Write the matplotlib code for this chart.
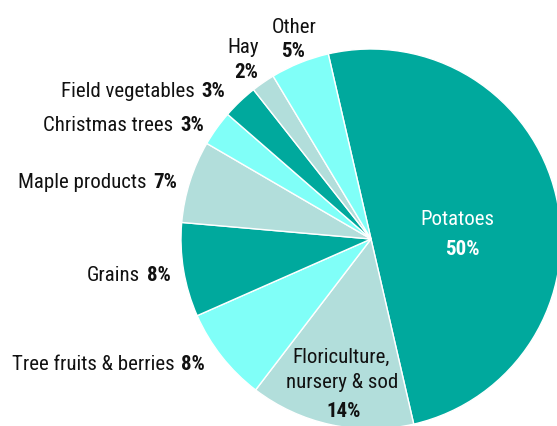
import matplotlib
matplotlib.use("Agg")
import matplotlib.pyplot as plt

categories = ["Potatoes", "Floriculture,\nnursery & sod", "Tree fruits & berries", "Grains",
              "Maple products", "Christmas trees", "Field vegetables", "Hay", "Other"]
values = [50, 14, 8, 8, 7, 3, 3, 2, 5]
pct_labels = ["50%", "14%", "8%", "8%", "7%", "3%", "3%", "2%", "5%"]

TEAL = "#00A99D"
LIGHT = "#B2DEDB"
CYAN = "#80FFF8"
colors = [TEAL, LIGHT, CYAN, TEAL, LIGHT, CYAN, TEAL, LIGHT, CYAN]

FONT = ["Roboto Condensed", "DejaVu Sans"]
FS = 15
INK = "#111111"

W, H = 557, 427
fig = plt.figure(figsize=(W / 100, H / 100), dpi=100)
ax = fig.add_axes([0, 0, 1, 1])

cx, cy, r = 371, H - 240, 190
ax.pie(values, colors=colors, startangle=103, counterclock=False,
       center=(cx, cy), radius=r,
       wedgeprops=dict(edgecolor="white", linewidth=1.0))
ax.set_xlim(0, W)
ax.set_ylim(0, H)
ax.set_aspect("equal")
ax.axis("off")


def Y(y):
    return H - y


def txt(x, y, s, bold=False, color=INK, ha="center"):
    return ax.text(x, Y(y), s, ha=ha, va="baseline", fontsize=FS, family=FONT,
                   fontweight="bold" if bold else "normal", color=color)


# right-aligned side labels: (index, right x, baseline y) in image pixels
side = [(6, 225, 97), (5, 204, 131), (4, 177, 188), (3, 171, 281), (2, 205, 370)]
for i, x, y in side:
    p = txt(x, y, pct_labels[i], bold=True, ha="right")
    ax.annotate(categories[i], xy=(0, 0), xycoords=p, xytext=(-5, 0),
                textcoords="offset points", ha="right", va="bottom",
                fontsize=FS, family=FONT, color=INK)

# Other / Hay
txt(294, 33, categories[8])
txt(293, 57, pct_labels[8], bold=True)
txt(243, 53, categories[7])
txt(246, 78, pct_labels[7], bold=True)

# Floriculture
flo_lines = categories[1].split("\n")
txt(341, 363, flo_lines[0])
txt(342, 388, flo_lines[1])
txt(344, 417, pct_labels[1], bold=True)

# Potatoes
txt(457, 225, categories[0], color="white")
txt(462, 255, pct_labels[0], bold=True, color="white")

fig.savefig("out.png", dpi=100)
